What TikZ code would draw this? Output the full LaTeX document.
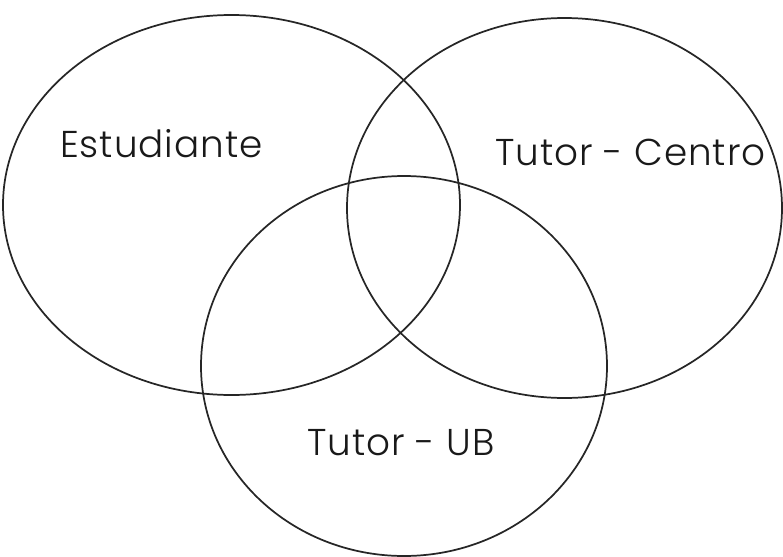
\documentclass[tikz,border=0pt]{standalone}
\usepackage{fontspec}
\setmainfont{Poppins}[UprightFont={* Light},LetterSpace=2.5]
\begin{document}
\begin{tikzpicture}[x=0.75pt,y=-0.75pt,
  venn/.style={draw=black!85,line width=1.3pt},
  lbl/.style={font=\fontsize{28}{32}\selectfont,text=black!90,inner sep=0pt,anchor=base west}]
\useasboundingbox (0,0) rectangle (783,557);
\draw[venn] (231.5,205) ellipse [x radius=228.5, y radius=190];
\draw[venn] (564.5,208) ellipse [x radius=217.5, y radius=190];
\draw[venn] (404,366) ellipse [x radius=203, y radius=190];
\node[lbl] (est) at (60,157) {Estudiante};
\node[lbl] (tc) at (495,165) {Tutor - Centro};
\node[lbl] (ub) at (307,455) {Tutor - UB};
\end{tikzpicture}
\end{document}
